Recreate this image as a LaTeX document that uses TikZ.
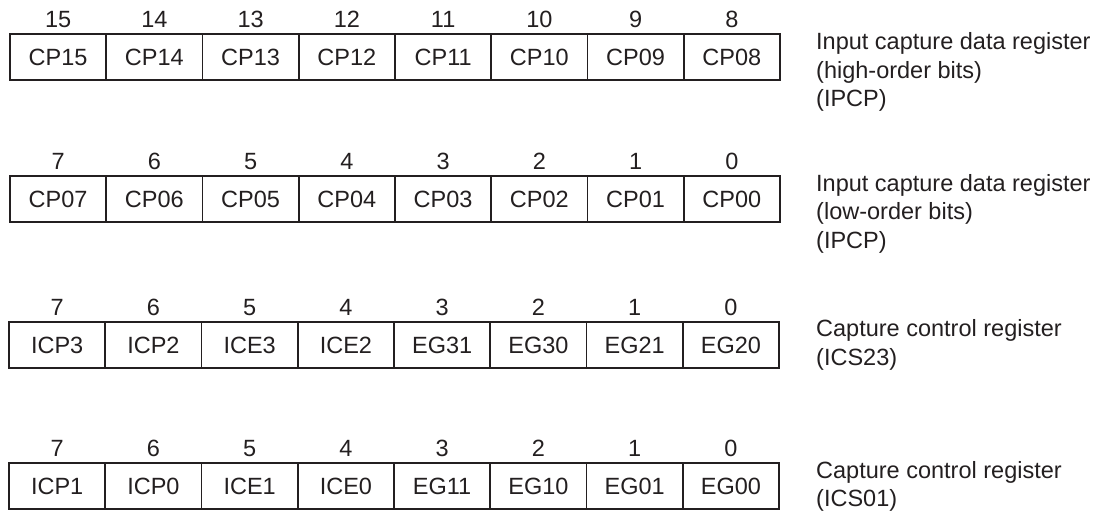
\documentclass[tikz,border=0pt]{standalone}
\usepackage{fontspec}
\setmainfont{Liberation Sans}
\definecolor{ink}{HTML}{231F20}
\begin{document}
\begin{tikzpicture}[x=1pt,y=-1pt,
  cell/.style={draw=ink, line width=1.8pt, minimum width=96.25pt, minimum height=46pt,
    inner sep=0pt, text=ink, font=\fontsize{23.5}{28}\selectfont},
  bitnum/.style={anchor=base, inner sep=0pt, text=ink, font=\fontsize{23.5}{28}\selectfont},
  lbl/.style={anchor=base west, inner sep=0pt, text=ink, font=\fontsize{23.5}{28}\selectfont}]
\useasboundingbox (0,0) rectangle (1107,512);
% Register 1
\foreach [count=\i from 0] \t in {CP15,CP14,CP13,CP12,CP11,CP10,CP09,CP08}
  \node[cell] (a\i) at ({10+96.25*(\i+0.5)},57) {\t};
\foreach [count=\i from 0] \b in {15,14,13,12,11,10,9,8}
  \node[bitnum] (ab\i) at ({10+96.25*(\i+0.5)},27) {\b};
\node[lbl] (al1) at (816,49.5) {Input capture data register};
\node[lbl] (al2) at (816,78.2) {(high-order bits)};
\node[lbl] (al3) at (816,106.9) {(IPCP)};
% Register 2
\foreach [count=\i from 0] \t in {CP07,CP06,CP05,CP04,CP03,CP02,CP01,CP00}
  \node[cell] (b\i) at ({10+96.25*(\i+0.5)},199) {\t};
\foreach [count=\i from 0] \b in {7,6,5,4,3,2,1,0}
  \node[bitnum] (bb\i) at ({10+96.25*(\i+0.5)},169) {\b};
\node[lbl] (bl1) at (816,191) {Input capture data register};
\node[lbl] (bl2) at (816,219.7) {(low-order bits)};
\node[lbl] (bl3) at (816,248.4) {(IPCP)};
% Register 3
\foreach [count=\i from 0] \t in {ICP3,ICP2,ICE3,ICE2,EG31,EG30,EG21,EG20}
  \node[cell] (c\i) at ({9+96.25*(\i+0.5)},345) {\t};
\foreach [count=\i from 0] \b in {7,6,5,4,3,2,1,0}
  \node[bitnum] (cb\i) at ({9+96.25*(\i+0.5)},315) {\b};
\node[lbl] (cl1) at (816,336.5) {Capture control register};
\node[lbl] (cl2) at (816,365.2) {(ICS23)};
% Register 4
\foreach [count=\i from 0] \t in {ICP1,ICP0,ICE1,ICE0,EG11,EG10,EG01,EG00}
  \node[cell] (d\i) at ({9+96.25*(\i+0.5)},486) {\t};
\foreach [count=\i from 0] \b in {7,6,5,4,3,2,1,0}
  \node[bitnum] (db\i) at ({9+96.25*(\i+0.5)},456) {\b};
\node[lbl] (dl1) at (816,478) {Capture control register};
\node[lbl] (dl2) at (816,506.5) {(ICS01)};
\end{tikzpicture}
\end{document}
